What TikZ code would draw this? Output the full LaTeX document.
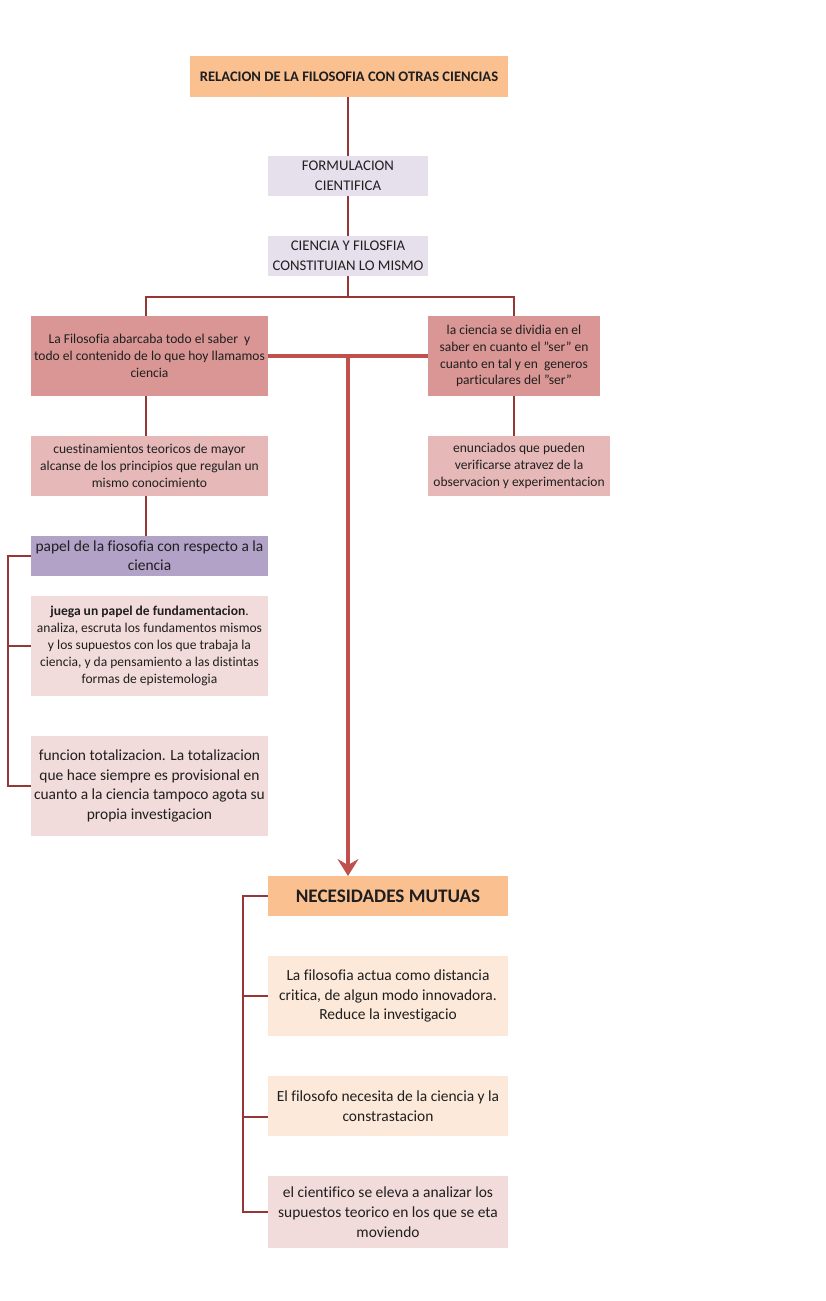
\documentclass[tikz,border=0pt]{standalone}
\usepackage{fontspec}
\setmainfont[Ligatures=NoCommon]{Carlito}
\usetikzlibrary{arrows.meta}

\definecolor{peach}{HTML}{FAC090}
\definecolor{lilac}{HTML}{E5E0EC}
\definecolor{rose}{HTML}{D99694}
\definecolor{rosemid}{HTML}{E6B9B8}
\definecolor{roselight}{HTML}{F2DCDB}
\definecolor{violet}{HTML}{B2A2C7}
\definecolor{cream}{HTML}{FDE9D9}
\definecolor{wire}{HTML}{953735}
\definecolor{bar}{HTML}{C0504D}

\begin{document}
\begin{tikzpicture}[x=0.02cm, y=-0.02cm, outer sep=0pt]

\tikzstyle{card}=[rectangle, inner sep=0pt, anchor=north west, align=center, text=black!88, font=\fontsize{7.7}{9.6}\selectfont]
\tikzstyle{big}=[font=\fontsize{8.8}{11.3}\selectfont]
\tikzstyle{link}=[draw=wire, line width=0.6pt]
\tikzstyle{heavy}=[draw=bar, line width=2.4pt]

\useasboundingbox (0,0) rectangle (825,1301);

\node[card, fill=peach, minimum width=318*0.02cm, minimum height=41*0.02cm, font=\bfseries\fontsize{8.3}{9.6}\selectfont] (title) at (190,56) {RELACION DE LA FILOSOFIA CON OTRAS CIENCIAS};
\node[card, fill=lilac, minimum width=160*0.02cm, minimum height=40*0.02cm, font=\fontsize{8.4}{11.3}\selectfont] (form) at (268,156) {FORMULACION\\CIENTIFICA};
\node[card, fill=lilac, minimum width=160*0.02cm, minimum height=40*0.02cm, font=\fontsize{8.4}{11.3}\selectfont] (cien) at (268,236) {CIENCIA Y FILOSFIA\\CONSTITUIAN LO MISMO};

\node[card, fill=rose, minimum width=237*0.02cm, minimum height=80*0.02cm] (lf) at (31,316) {La Filosofia abarcaba todo el saber\ \ y\\todo el contenido de lo que hoy llamamos\\ciencia};
\node[card, fill=rose, minimum width=172*0.02cm, minimum height=80*0.02cm] (rf) at (428,316) {la ciencia se dividia en el\\saber en cuanto el "ser" en\\cuanto en tal y en\ \ generos\\particulares del "ser"};
\node[card, fill=rosemid, minimum width=237*0.02cm, minimum height=60*0.02cm] (lq) at (31,436) {cuestinamientos teoricos de mayor\\alcanse de los principios que regulan un\\mismo conocimiento};
\node[card, fill=rosemid, minimum width=182*0.02cm, minimum height=60*0.02cm] (rq) at (428,436) {enunciados que pueden\\verificarse atravez de la\\observacion y experimentacion};

\node[card, fill=violet, minimum width=237*0.02cm, minimum height=40*0.02cm, font=\fontsize{8.8}{10.8}\selectfont] (papel) at (31,536) {papel de la fiosofia con respecto a la\\ciencia};
\node[card, fill=roselight, minimum width=237*0.02cm, minimum height=100*0.02cm] (jueg) at (31,596) {\textbf{juega un papel de fundamentacion}.\\analiza, escruta los fundamentos mismos\\y los supuestos con los que trabaja la\\ciencia, y da pensamiento a las distintas\\formas de epistemologia};
\node[card, big, fill=roselight, minimum width=237*0.02cm, minimum height=100*0.02cm] (func) at (31,736) {funcion totalizacion. La totalizacion\\que hace siempre es provisional en\\cuanto a la ciencia tampoco agota su\\propia investigacion};

\node[card, fill=peach, minimum width=240*0.02cm, minimum height=40*0.02cm, font=\bfseries\fontsize{10.9}{11.3}\selectfont] (nec) at (268,876) {NECESIDADES MUTUAS};
\node[card, big, fill=cream, minimum width=240*0.02cm, minimum height=80*0.02cm] (n1) at (268,956) {La filosofia actua como distancia\\critica, de algun modo innovadora.\\Reduce la investigacio};
\node[card, big, fill=cream, minimum width=240*0.02cm, minimum height=60*0.02cm] (n2) at (268,1076) {El filosofo necesita de la ciencia y la\\constrastacion};
\node[card, big, fill=roselight, minimum width=240*0.02cm, minimum height=72*0.02cm] (n3) at (268,1176) {el cientifico se eleva a analizar los\\supuestos teorico en los que se eta\\moviendo};

% top chain
\draw[link] (title.south -| cien.north) -- (form.north);
\draw[link] (form.south -| cien.north) -- (cien.north);
\draw[link] (cien.south) -- ++(0,21) coordinate (fork);
\draw[link] (fork) -| ([xshift=-0.07cm]lf.north);
\draw[link] (fork) -| (rf.north);
\draw[link] ([xshift=-0.07cm]lf.south) -- ([xshift=-0.07cm]lq.north);
\draw[link] (rf.south) -- (rf.south |- rq.north);
\draw[link] ([xshift=-0.07cm]lq.south) -- ([xshift=-0.07cm]papel.north);

% red bar and arrow
\draw[heavy] (lf.east) -- (rf.west);
\draw[heavy, -{Stealth[length=0.34cm, width=0.42cm, inset=0.12cm]}] (cien.south |- lf.east) -- (cien.south |- nec.north);

% left bracket
\draw[link] (papel.west) -- ++(-23,0) coordinate (lbr) -- (lbr |- func.west) -- (func.west);
\draw[link] (lbr |- jueg.west) -- (jueg.west);

% bottom bracket
\draw[link] (nec.west) -- ++(-25,0) coordinate (bbr) -- (bbr |- n3.west) -- (n3.west);
\draw[link] (bbr |- n1.west) -- (n1.west);
\draw[link] (bbr |- 0,1117) -- (n2.west |- 0,1117);

\end{tikzpicture}
\end{document}
